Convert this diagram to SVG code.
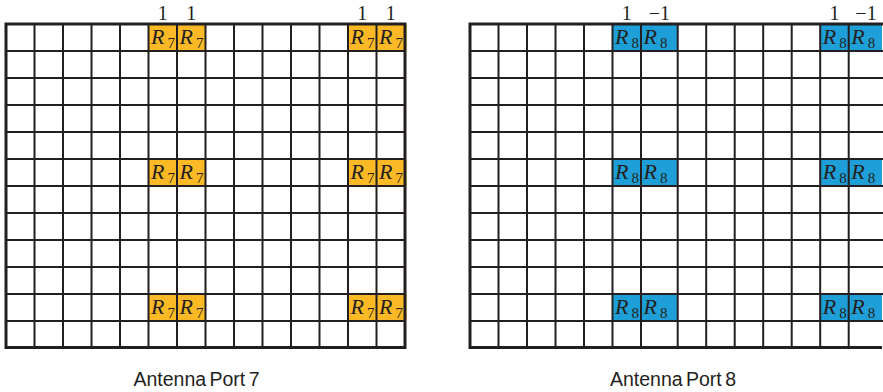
<svg xmlns="http://www.w3.org/2000/svg" width="883" height="392" viewBox="0 0 883 392">
<style>
.bg{fill:#ffffff}
.y{fill:#FBBA25}
.b{fill:#1E9FD7}
.ln{stroke:#231F20;stroke-width:2;fill:none}
.ob{stroke:#231F20;stroke-width:3;fill:none}
.r{font-family:"Liberation Serif",serif;font-style:italic;font-size:22px;fill:#231F20}
.s{font-family:"Liberation Serif",serif;font-size:15px;fill:#231F20}
.top{font-family:"Liberation Serif",serif;font-size:20px;fill:#231F20;text-anchor:middle}
.cap{font-family:"Liberation Sans",Arial,sans-serif;font-size:19.5px;fill:#231F20;text-anchor:middle;word-spacing:-2px}
</style>
<rect class="bg" x="0" y="0" width="883" height="392"/>

<g id="port7-cells">
<rect class="y" x="148.5" y="24" width="57" height="27"/>
<rect class="y" x="348" y="24" width="58.5" height="27"/>
<rect class="y" x="148.5" y="159" width="57" height="27"/>
<rect class="y" x="348" y="159" width="58.5" height="27"/>
<rect class="y" x="148.5" y="294" width="57" height="27"/>
<rect class="y" x="348" y="294" width="58.5" height="27"/>
</g>

<g id="port8-cells">
<rect class="b" x="612.5" y="24" width="65.2" height="27"/>
<rect class="b" x="820.2" y="24" width="61.8" height="27"/>
<rect class="b" x="612.5" y="159" width="65.2" height="27"/>
<rect class="b" x="820.2" y="159" width="61.8" height="27"/>
<rect class="b" x="612.5" y="294" width="65.2" height="27"/>
<rect class="b" x="820.2" y="294" width="61.8" height="27"/>
</g>

<g id="grid7">
<path class="ln" d="M34.5 24V347M63 24V347M91.5 24V347M120 24V347M148.5 24V347M177 24V347M205.5 24V347M234 24V347M262.5 24V347M291 24V347M319.5 24V347M348 24V347M376.5 24V347"/>
<path class="ln" d="M6 51H405M6 78H405M6 105H405M6 132H405M6 159H405M6 186H405M6 213H405M6 240H405M6 267H405M6 294H405M6 321H405"/>
<path class="ob" d="M6 349V24H405V349M6 347.5H405"/>
</g>

<g id="grid8">
<path class="ln" d="M498.5 24V347M527 24V347M555.5 24V347M584 24V347M612.5 24V347M641 24V347M677.7 24V347M706.2 24V347M734.7 24V347M763.2 24V347M791.7 24V347M820.2 24V347M848.7 24V347"/>
<path class="ln" d="M470 51H883M470 78H883M470 105H883M470 132H883M470 159H883M470 186H883M470 213H883M470 240H883M470 267H883M470 294H883M470 321H883"/>
<path class="ob" d="M470 349V24H883M470 347.5H882"/>
</g>

<g id="labels7">
<text class="top" x="162.75" y="20">1</text>
<text class="top" x="191.25" y="20">1</text>
<text class="top" x="362.25" y="20">1</text>
<text class="top" x="390.75" y="20">1</text>
<text class="r" x="151" y="43.5">R</text><text class="s" x="167.5" y="47.5">7</text>
<text class="r" x="179.5" y="43.5">R</text><text class="s" x="196" y="47.5">7</text>
<text class="r" x="350.5" y="43.5">R</text><text class="s" x="367" y="47.5">7</text>
<text class="r" x="379" y="43.5">R</text><text class="s" x="395.5" y="47.5">7</text>
<text class="r" x="151" y="178.5">R</text><text class="s" x="167.5" y="182.5">7</text>
<text class="r" x="179.5" y="178.5">R</text><text class="s" x="196" y="182.5">7</text>
<text class="r" x="350.5" y="178.5">R</text><text class="s" x="367" y="182.5">7</text>
<text class="r" x="379" y="178.5">R</text><text class="s" x="395.5" y="182.5">7</text>
<text class="r" x="151" y="313.5">R</text><text class="s" x="167.5" y="317.5">7</text>
<text class="r" x="179.5" y="313.5">R</text><text class="s" x="196" y="317.5">7</text>
<text class="r" x="350.5" y="313.5">R</text><text class="s" x="367" y="317.5">7</text>
<text class="r" x="379" y="313.5">R</text><text class="s" x="395.5" y="317.5">7</text>
<text class="cap" x="196.5" y="386">Antenna Port 7</text>
</g>

<g id="labels8">
<text class="top" x="626.75" y="20">1</text>
<text class="top" x="659.3" y="20">−1</text>
<text class="top" x="834.5" y="20">1</text>
<text class="top" x="866" y="20">−1</text>
<text class="r" x="615" y="43.5">R</text><text class="s" x="631.5" y="47.5">8</text>
<text class="r" x="643.5" y="43.5">R</text><text class="s" x="660" y="47.5">8</text>
<text class="r" x="822.7" y="43.5">R</text><text class="s" x="839.2" y="47.5">8</text>
<text class="r" x="851.2" y="43.5">R</text><text class="s" x="867.7" y="47.5">8</text>
<text class="r" x="615" y="178.5">R</text><text class="s" x="631.5" y="182.5">8</text>
<text class="r" x="643.5" y="178.5">R</text><text class="s" x="660" y="182.5">8</text>
<text class="r" x="822.7" y="178.5">R</text><text class="s" x="839.2" y="182.5">8</text>
<text class="r" x="851.2" y="178.5">R</text><text class="s" x="867.7" y="182.5">8</text>
<text class="r" x="615" y="313.5">R</text><text class="s" x="631.5" y="317.5">8</text>
<text class="r" x="643.5" y="313.5">R</text><text class="s" x="660" y="317.5">8</text>
<text class="r" x="822.7" y="313.5">R</text><text class="s" x="839.2" y="317.5">8</text>
<text class="r" x="851.2" y="313.5">R</text><text class="s" x="867.7" y="317.5">8</text>
<text class="cap" x="673" y="386">Antenna Port 8</text>
</g>
</svg>
